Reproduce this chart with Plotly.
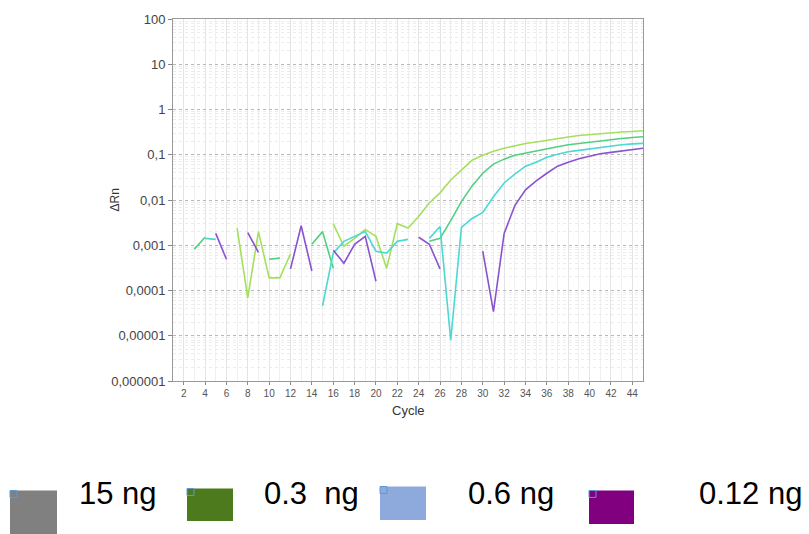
import plotly.graph_objects as go

cycles = list(range(1, 46))
N = None

s_15ng = [N, N, N, N, N, N, 0.0024, 6.9e-5, 0.0020, 1.9e-4, 1.9e-4, 6.4e-4, N, N, N,
          0.0030, 0.00095, 0.00142, 0.00224, 0.00157, 3.1e-4, 0.0030, 0.0024, 0.0043, 0.0087,
          0.0144, 0.0277, 0.0458, 0.0758, 0.0975, 0.119, 0.139, 0.157, 0.178, 0.192,
          0.211, 0.229, 0.247, 0.267, 0.281, 0.295, 0.310, 0.318, 0.327, 0.338]
s_03ng = [N, N, 8.2e-4, 0.0015, N, N, N, N, N, 4.9e-4, 5.2e-4, N, N, 0.00105, 0.0020,
          3.1e-4, N, N, N, N, N, N, N, N, 0.00122,
          0.00142, 0.0035, 0.0092, 0.0205, 0.039, 0.062, 0.080, 0.098, 0.110, 0.122,
          0.134, 0.150, 0.166, 0.178, 0.192, 0.202, 0.213, 0.229, 0.241, 0.250]
s_06ng = [N, N, N, 0.00142, 0.00135, N, N, N, N, N, N, N, N, N, 4.6e-5,
          6.7e-4, 0.00122, 0.00157, 0.0020, 7.4e-4, 6.7e-4, 0.00122, 0.00135, N, 0.00142,
          0.0026, 8.0e-6, 0.00247, 0.0039, 0.0053, 0.0118, 0.0238, 0.0375, 0.056, 0.0686,
          0.088, 0.103, 0.116, 0.125, 0.135, 0.146, 0.153, 0.166, 0.174, 0.178]
s_012ng = [N, N, N, N, 0.00183, 4.9e-4, N, 0.0019, 7.0e-4, N, N, 3.0e-4, 0.0027, 2.7e-4, N,
           7.8e-4, 4.0e-4, 0.00105, 0.00157, 1.6e-4, N, N, N, 0.0015, 0.00105,
           3.0e-4, N, N, N, 7.4e-4, 3.4e-5, 0.00183, 0.0075, 0.0168, 0.0264,
           0.039, 0.056, 0.0686, 0.082, 0.093, 0.105, 0.113, 0.122, 0.132, 0.139]

series_names = ["15 ng", "0.3 ng", "0.6 ng", "0.12 ng"]
series_values = [s_15ng, s_03ng, s_06ng, s_012ng]
line_colors = ["#a4e05c", "#4fd07e", "#4cd8d4", "#8a52d0"]

y_tickvals = [1e-6, 1e-5, 1e-4, 1e-3, 1e-2, 1e-1, 1, 10, 100]
y_ticktext = ["0,000001", "0,00001", "0,0001", "0,001", "0,01", "0,1", "1", "10", "100"]
x_tickvals = list(range(2, 45, 2))

legend_labels = ["15 ng", "0.3  ng", "0.6 ng", "0.12 ng"]
legend_colors = ["#808080", "#4c7a1c", "#8eaadc", "#800080"]

# layout geometry (pixels)
W, H = 809, 534
PL, PR, PT, PB = 173, 643, 14, 381

def px(x):
    return (x - PL) / (PR - PL)

def py(y):
    return (PB - y) / (PB - PT)

fig = go.Figure()
for name, vals, col in zip(series_names, series_values, line_colors):
    fig.add_trace(go.Scatter(x=cycles, y=vals, mode="lines", name=name,
                             line=dict(color=col, width=1.6), connectgaps=False))

font_main = "Liberation Sans, Arial, sans-serif"

fig.update_layout(
    width=W, height=H,
    margin=dict(l=PL, r=W - PR, t=PT, b=H - PB, pad=0),
    paper_bgcolor="white", plot_bgcolor="white",
    showlegend=False,
    font=dict(family=font_main),
)
fig.update_xaxes(
    range=[1, 45], tickvals=x_tickvals, ticktext=[str(v) for v in x_tickvals],
    tickfont=dict(size=10, color="#555555"),
    ticks="outside", ticklen=3, tickcolor="#888888",
    showgrid=True, gridcolor="#e4e4e4", gridwidth=1,
    minor=dict(dtick=1, tick0=1, showgrid=True, gridcolor="#f0f0f0", ticks=""),
    showline=True, linecolor="#999999", linewidth=1, mirror=True, zeroline=False,
)
fig.update_yaxes(
    type="log", range=[-6, 2], tickvals=y_tickvals, ticktext=y_ticktext,
    tickfont=dict(size=13, color="#444444"),
    ticks="outside", ticklen=4, tickcolor="#888888",
    showgrid=True, gridcolor="#b8b8b8", griddash="dot", gridwidth=1,
    minor=dict(showgrid=True, gridcolor="#ececec", ticks="", dtick="D1"),
    showline=True, linecolor="#999999", linewidth=1, mirror=True, zeroline=False,
)

annotations = [
    dict(text="ΔRn", x=px(115), y=py(198), xref="paper", yref="paper", showarrow=False,
         textangle=-90, font=dict(size=12, color="#333333"), xanchor="center", yanchor="middle"),
    dict(text="Cycle", x=px(408), y=py(411), xref="paper", yref="paper", showarrow=False,
         font=dict(size=13, color="#333333"), xanchor="center", yanchor="middle"),
]
shapes = []
sq_boxes = [(10, 57, 492, 540), (187, 233, 490, 523), (380, 426, 488, 522), (589, 634, 492, 526)]
text_x = [77, 262, 466, 697]
for lab, col, (x0, x1, y0, y1), tx in zip(legend_labels, legend_colors, sq_boxes, text_x):
    shapes.append(dict(type="rect", xref="paper", yref="paper", x0=px(x0), x1=px(x1),
                       y0=py(y1), y1=py(y0), fillcolor=col, line=dict(width=0), layer="above"))
    shapes.append(dict(type="rect", xref="paper", yref="paper", x0=px(x0), x1=px(x0 + 7),
                       y0=py(y0 + 7), y1=py(y0), fillcolor="rgba(0,0,0,0)",
                       line=dict(width=1, color="#5b9bd5"), layer="above"))
    annotations.append(dict(text=lab, x=px(tx), y=py(495), xref="paper", yref="paper",
                            showarrow=False, xanchor="left", yanchor="middle",
                            font=dict(size=31, color="#000000", family=font_main)))

fig.update_layout(annotations=annotations, shapes=shapes)
fig.write_html("out.html")
